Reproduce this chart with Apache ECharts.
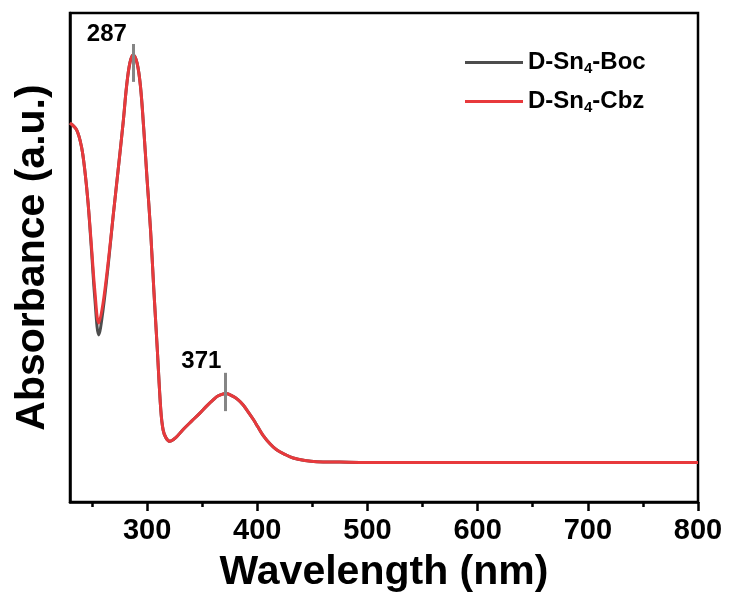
<!DOCTYPE html>
<html>
<head>
<meta charset="utf-8">
<script src="https://cdn.jsdelivr.net/npm/echarts@6/dist/echarts.min.js"></script>
<style>
html, body { margin: 0; padding: 0; background: #fff; }
#main { width: 732px; height: 603px; }
</style>
</head>
<body>
<div id="main"></div>
<script>
// wavelength (nm)
var wavelength = [230, 236, 240.4, 243.4, 246.4, 249.5, 252.5, 256.1, 260, 264.6, 269.1, 273.7, 278.2, 281.3, 284.3, 287.3, 290.9, 294, 297, 300,
  303.1, 306.1, 309.1, 312.4, 314.5, 317, 320.6, 326, 332.7, 340.6, 347.9, 354.2, 359.7, 364.2, 369, 371.5, 378.1, 382.4, 387.2, 391.5,
  396.3, 400.6, 405.4, 411.5, 417.5, 425, 432.6, 443.2, 453.8, 475, 500, 550, 600, 650, 700, 750, 800];
var boc = [0.930, 0.913, 0.872, 0.815, 0.734, 0.618, 0.501, 0.410, 0.471, 0.579, 0.700, 0.815, 0.930, 1.019, 1.077, 1.097, 1.077, 1.019, 0.913, 0.790,
  0.668, 0.520, 0.381, 0.226, 0.177, 0.158, 0.149, 0.158, 0.178, 0.199, 0.218, 0.236, 0.250, 0.260, 0.265, 0.266, 0.259, 0.251, 0.238, 0.222,
  0.203, 0.184, 0.163, 0.143, 0.128, 0.117, 0.108, 0.102, 0.099, 0.098, 0.097, 0.097, 0.097, 0.097, 0.097, 0.097, 0.097];
var cbz = [0.930, 0.913, 0.872, 0.815, 0.734, 0.627, 0.520, 0.439, 0.488, 0.587, 0.700, 0.815, 0.930, 1.019, 1.077, 1.097, 1.077, 1.019, 0.913, 0.790,
  0.668, 0.520, 0.381, 0.226, 0.177, 0.158, 0.149, 0.158, 0.178, 0.199, 0.218, 0.236, 0.250, 0.260, 0.265, 0.266, 0.259, 0.251, 0.238, 0.222,
  0.203, 0.184, 0.163, 0.143, 0.128, 0.117, 0.108, 0.102, 0.099, 0.098, 0.097, 0.097, 0.097, 0.097, 0.097, 0.097, 0.097];
var majorTicks = [300, 400, 500, 600, 700, 800];
var minorTicks = [250, 350, 450, 550, 650, 750];
// peak wavelength and the y-range of its marker bar
var peaks = [287, 371];
var peakBars = [[1.031, 1.124], [0.223, 0.317]];

var chart = echarts.init(document.getElementById('main'));
var font = '"Liberation Sans", Arial, sans-serif';

function pairs(ys) {
  return wavelength.map(function (x, i) { return [x, ys[i]]; });
}

var legendRich = {
  t: { fontSize: 24, fontWeight: 'bold', color: '#000', fontFamily: font, lineHeight: 27 },
  s: { fontSize: 15, fontWeight: 'bold', color: '#000', fontFamily: font, lineHeight: 27, verticalAlign: 'bottom', padding: [14, 0, 0, 0] }
};

chart.setOption({
  animation: false,
  grid: { left: 70, right: 34, top: 13, bottom: 101, show: true, borderColor: '#000', borderWidth: 2.5 },
  legend: {
    left: 460, top: 42, orient: 'vertical',
    itemWidth: 58, itemHeight: 3, itemGap: 10, icon: 'rect',
    data: ['D-Sn4-Boc', 'D-Sn4-Cbz'],
    formatter: function (n) {
      var tail = n.split('Sn4')[1];
      return '{t|D-Sn}{s|4}{t|' + tail + '}';
    },
    textStyle: { rich: legendRich }
  },
  xAxis: [{
    type: 'value', min: 230, max: 800,
    name: 'Wavelength (nm)', nameLocation: 'middle', nameGap: 50,
    nameTextStyle: { fontSize: 41, fontWeight: 'bold', color: '#000', fontFamily: font },
    axisLine: { lineStyle: { color: '#000', width: 2.5 } },
    axisTick: { customValues: majorTicks, length: 9, lineStyle: { color: '#000', width: 2.5 } },
    axisLabel: { customValues: majorTicks, fontSize: 29, fontWeight: 'bold', color: '#000', fontFamily: font, margin: 14 },
    splitLine: { show: false }
  }, {
    type: 'value', min: 230, max: 800, position: 'bottom',
    axisLine: { show: false },
    axisTick: { customValues: minorTicks, length: 5, lineStyle: { color: '#000', width: 2.5 } },
    axisLabel: { show: false },
    splitLine: { show: false }
  }],
  yAxis: {
    type: 'value', min: 0, max: 1.2,
    name: 'Absorbance (a.u.)', nameLocation: 'middle', nameGap: 17,
    nameTextStyle: { fontSize: 41, fontWeight: 'bold', color: '#000', fontFamily: font },
    axisLine: { show: true, lineStyle: { color: '#000', width: 2.5 } },
    axisTick: { show: false },
    axisLabel: { show: false },
    splitLine: { show: false }
  },
  series: [{
    name: 'D-Sn4-Boc', type: 'line', data: pairs(boc),
    smooth: 0.35, symbol: 'none',
    lineStyle: { color: '#4d4d4d', width: 3 }, itemStyle: { color: '#4d4d4d' }
  }, {
    name: 'D-Sn4-Cbz', type: 'line', data: pairs(cbz),
    smooth: 0.35, symbol: 'none',
    lineStyle: { color: '#e8393c', width: 3 }, itemStyle: { color: '#e8393c' },
    markLine: {
      silent: true, symbol: 'none', label: { show: false },
      lineStyle: { color: '#858585', width: 3, type: 'solid' },
      data: peaks.map(function (p, i) {
        return [{ coord: [p, peakBars[i][0]] }, { coord: [p, peakBars[i][1]] }];
      })
    },
    markPoint: {
      silent: true, symbol: 'circle', symbolSize: 0,
      label: { show: true, position: 'top', fontSize: 24, fontWeight: 'bold', color: '#000', fontFamily: font },
      data: [
        { coord: [peaks[0], peakBars[0][1]], value: String(peaks[0]), label: { offset: [-26, 7] } },
        { coord: [peaks[1], peakBars[1][1]], value: String(peaks[1]), label: { offset: [-24, 6] } }
      ]
    }
  }]
});
</script>
</body>
</html>
